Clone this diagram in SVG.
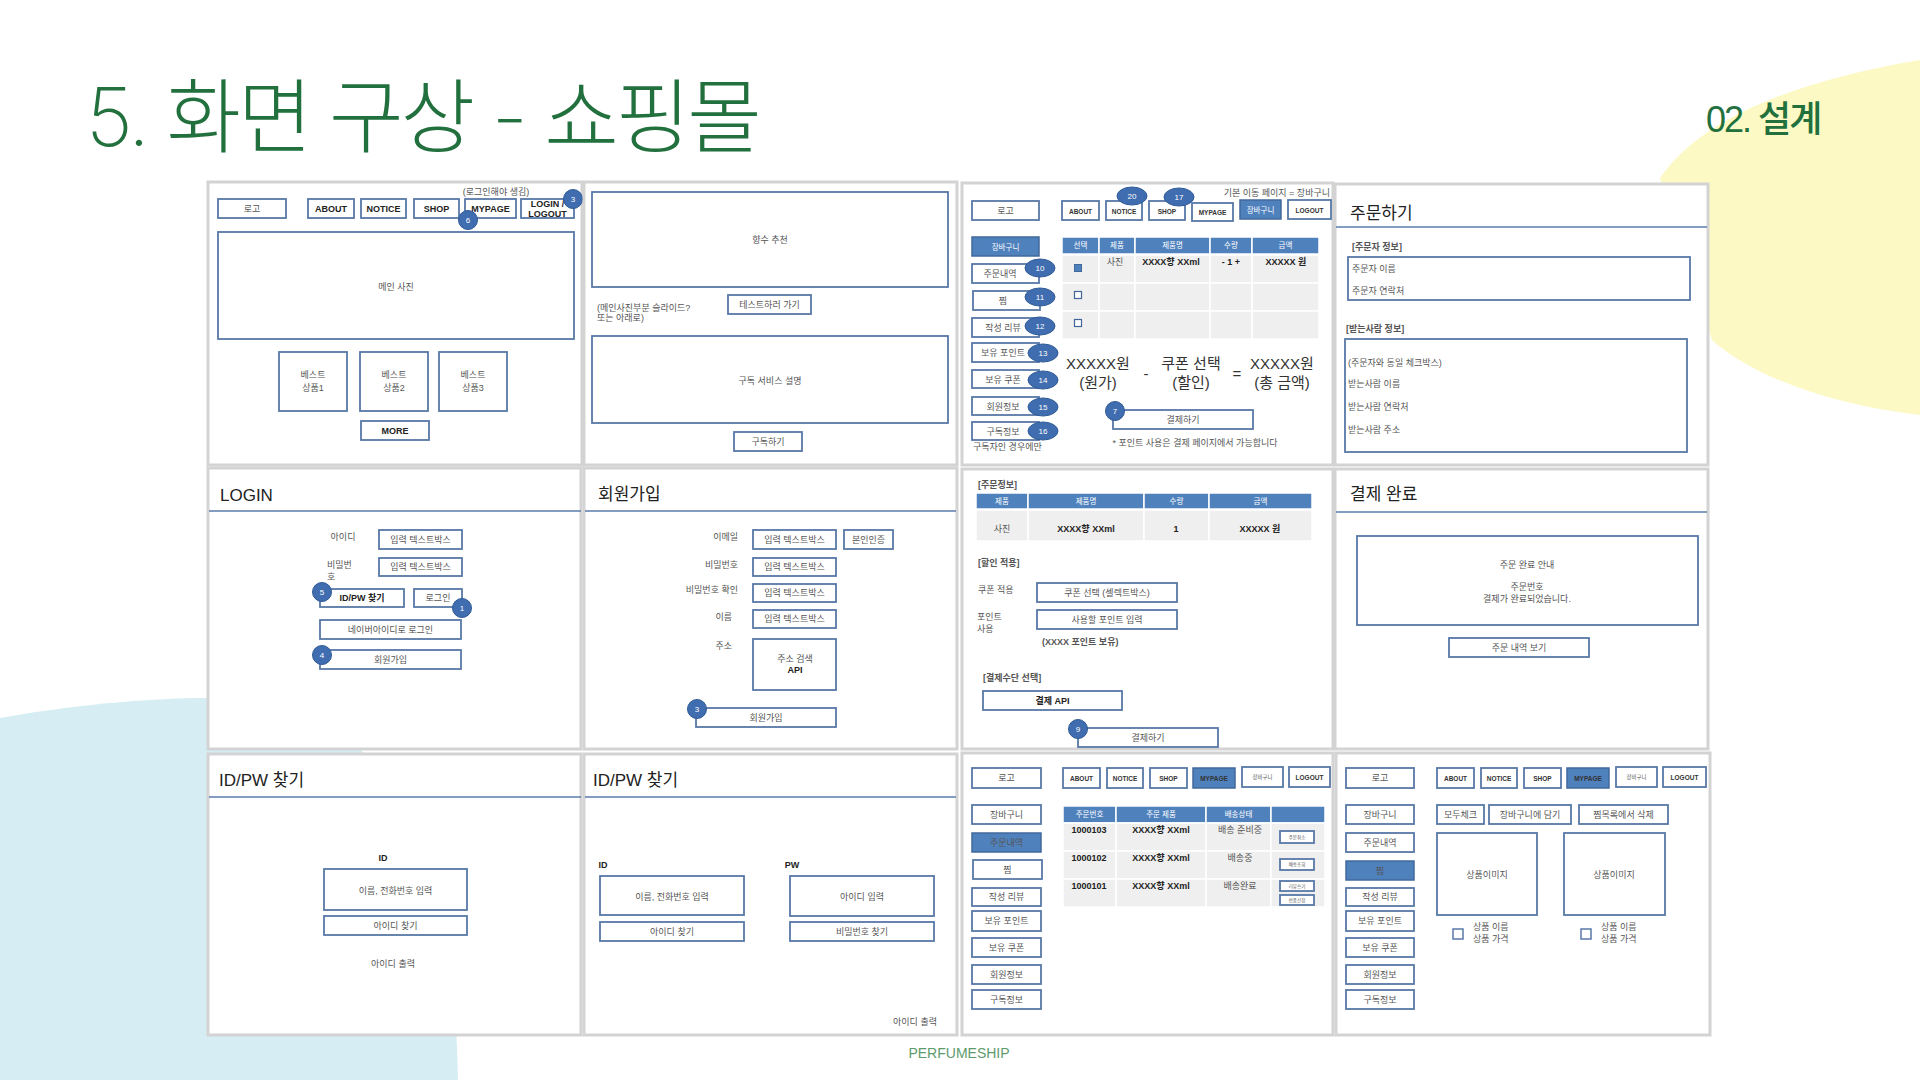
<svg xmlns="http://www.w3.org/2000/svg" width="1920" height="1080" viewBox="0 0 1920 1080">
<style>
.panel{fill:#fff;stroke:#d3d3d3;stroke-width:3}
.bx{fill:#fff;stroke:#5878a8;stroke-width:1.8}
.bf{fill:#4f81bd;stroke:#41689c;stroke-width:1.5}
.hc{fill:#4f81bd;stroke:#fff;stroke-width:1.5}
.rc{fill:#efefef;stroke:#fff;stroke-width:1.5}
.dv{stroke:#5a7bab;stroke-width:1.6}
text{font-family:"Liberation Sans","Noto Sans CJK KR",sans-serif}
.t{font-size:9px;fill:#555;text-anchor:middle;dominant-baseline:central}
.tl{font-size:9px;fill:#555;dominant-baseline:central}
.tr{font-size:9px;fill:#555;text-anchor:end;dominant-baseline:central}
.k{font-size:9px;fill:#222;font-weight:bold;text-anchor:middle;dominant-baseline:central}
.s{font-size:6.5px;fill:#333;font-weight:bold;text-anchor:middle;dominant-baseline:central}
.w{font-size:7.5px;fill:#fff;text-anchor:middle;dominant-baseline:central}
.ttl{font-size:17px;fill:#222}
.bd{fill:#3f6db0;stroke:#2f5a96;stroke-width:1}
.bt{font-size:8px;fill:#fff;text-anchor:middle;dominant-baseline:central}
.big{font-size:15px;fill:#333;text-anchor:middle;dominant-baseline:central}
.tiny{font-size:9px;fill:#555;text-anchor:middle;dominant-baseline:central}
.lt{font-family:Inter,"Noto Sans CJK KR",sans-serif;font-weight:200}
</style>
<rect width="1920" height="1080" fill="#fff"/>
<path d="M0,718 C90,702 190,694 262,700 C340,708 410,790 438,870 C452,930 456,1010 458,1080 L0,1080 Z" fill="#d5edf3"/>
<path d="M1660,178 C1700,120 1790,82 1920,60 L1920,415 C1830,405 1750,375 1712,340 Z" fill="#fcf9c4"/>
<text x="86" y="146" font-size="81" font-weight="200" fill="#22703d" letter-spacing="-3" font-family="'Noto Sans CJK KR','Liberation Sans',sans-serif"><tspan class="lt">5.</tspan> 화면 구상 <tspan class="lt">-</tspan> 쇼핑몰</text>
<text x="1706" y="132" font-size="36" font-weight="500" fill="#22703d" letter-spacing="-2" font-family="'Noto Sans CJK KR','Liberation Sans',sans-serif">02. 설계</text>
<text x="959" y="1058" font-size="14" fill="#5e9b6c" text-anchor="middle">PERFUMESHIP</text>

<g id="connectors"/>

<!-- Panel 1: main -->
<g id="p1">
<rect class="panel" x="208" y="182" width="374" height="283"/>
<g id="p1-logo"><rect class="bx" x="218" y="199" width="68" height="19"/><text class="t" x="252" y="209">로고</text></g>
<g id="p1-about"><rect class="bx" x="308" y="199" width="46" height="19"/><text class="k" x="331" y="209">ABOUT</text></g>
<g id="p1-notice"><rect class="bx" x="361" y="199" width="45" height="19"/><text class="k" x="383.5" y="209">NOTICE</text></g>
<g id="p1-shop"><rect class="bx" x="414" y="199" width="45" height="19"/><text class="k" x="436.5" y="209">SHOP</text></g>
<g id="p1-mypage"><rect class="bx" x="465" y="199" width="51" height="19"/><text class="k" x="490.5" y="209">MYPAGE</text></g>
<g id="p1-login"><rect class="bx" x="521" y="199" width="53" height="19"/><text class="k" x="547.5" y="203.5">LOGIN /</text><text class="k" x="547.5" y="214">LOGOUT</text></g>
<text class="t" x="496" y="192">(로그인해야 생김)</text>
<g id="p1-b3"><circle class="bd" cx="573" cy="199" r="9.5"/><text class="bt" x="573" y="199">3</text></g>
<g id="p1-b6"><circle class="bd" cx="468" cy="220" r="9.5"/><text class="bt" x="468" y="220">6</text></g>
<g id="p1-main"><rect class="bx" x="218" y="232" width="356" height="107"/><text class="t" x="396" y="287">메인 사진</text></g>
<g id="p1-best1"><rect class="bx" x="279" y="352" width="68" height="59"/><text class="t" x="313" y="375">베스트</text><text class="t" x="313" y="388">상품1</text></g>
<g id="p1-best2"><rect class="bx" x="360" y="352" width="68" height="59"/><text class="t" x="394" y="375">베스트</text><text class="t" x="394" y="388">상품2</text></g>
<g id="p1-best3"><rect class="bx" x="439" y="352" width="68" height="59"/><text class="t" x="473" y="375">베스트</text><text class="t" x="473" y="388">상품3</text></g>
<g id="p1-more"><rect class="bx" x="361" y="421" width="68" height="19"/><text class="k" x="395" y="431">MORE</text></g>
</g>

<!-- Panel 2 -->
<g id="p2">
<rect class="panel" x="584" y="182" width="373" height="283"/>
<g id="p2-rec"><rect class="bx" x="592" y="192" width="356" height="95"/><text class="t" x="770" y="240">향수 추천</text></g>
<g id="p2-test"><rect class="bx" x="728" y="295" width="83" height="19"/><text class="t" x="769.5" y="305">테스트하러 가기</text></g>
<text class="tl" x="597" y="308">(메인사진부분 슬라이드?</text>
<text class="tl" x="597" y="318">또는 아래로)</text>
<g id="p2-sub"><rect class="bx" x="592" y="336" width="356" height="87"/><text class="t" x="770" y="381">구독 서비스 설명</text></g>
<g id="p2-subbtn"><rect class="bx" x="734" y="432" width="68" height="19"/><text class="t" x="768" y="442">구독하기</text></g>
</g>

<!-- Panel 3: cart -->
<g id="p3">
<rect class="panel" x="962" y="183" width="371" height="282"/>
<g id="p3-logo"><rect class="bx" x="972" y="201" width="67" height="19"/><text class="t" x="1005.5" y="211">로고</text></g>
<g id="p3-about"><rect class="bx" x="1062" y="201" width="37" height="19"/><text class="s" x="1080.5" y="211">ABOUT</text></g>
<g id="p3-notice"><rect class="bx" x="1106" y="201" width="36" height="19"/><text class="s" x="1124" y="211">NOTICE</text></g>
<g id="p3-shop"><rect class="bx" x="1149" y="201" width="36" height="19"/><text class="s" x="1167" y="211">SHOP</text></g>
<g id="p3-mypage"><rect class="bx" x="1192" y="203" width="41" height="18"/><text class="s" x="1212.5" y="212">MYPAGE</text></g>
<g id="p3-cart"><rect class="bf" x="1240" y="200" width="41" height="19"/><text class="w" x="1260.5" y="210" font-size="6">장바구니</text></g>
<g id="p3-logout"><rect class="bx" x="1288" y="200" width="43" height="19"/><text class="s" x="1309.5" y="210">LOGOUT</text></g>
<text class="tr" x="1330" y="193">기본 이동 페이지 = 장바구니</text>
<g id="p3-b20"><ellipse class="bd" cx="1132" cy="196" rx="15" ry="9"/><text class="bt" x="1132" y="196">20</text></g>
<g id="p3-b17"><ellipse class="bd" cx="1179" cy="197" rx="15" ry="9"/><text class="bt" x="1179" y="197">17</text></g>
<g id="p3-side">
<rect class="bf" x="972" y="237" width="67" height="19"/><text class="w" x="1005.5" y="247" font-size="9">장바구니</text>
<rect class="bx" x="972" y="264" width="67" height="19"/><text class="t" x="1000" y="274">주문내역</text>
<rect class="bx" x="973" y="291" width="67" height="19"/><text class="t" x="1003" y="301">찜</text>
<rect class="bx" x="972" y="318" width="67" height="19"/><text class="t" x="1003" y="328">작성 리뷰</text>
<rect class="bx" x="972" y="343" width="67" height="19"/><text class="t" x="1003" y="353">보유 포인트</text>
<rect class="bx" x="972" y="370" width="67" height="18"/><text class="t" x="1003" y="380">보유 쿠폰</text>
<rect class="bx" x="972" y="397" width="67" height="18"/><text class="t" x="1003" y="407">회원정보</text>
<rect class="bx" x="972" y="422" width="67" height="18"/><text class="t" x="1003" y="432">구독정보</text>
<text class="tl" x="973" y="447">구독자인 경우에만</text>
</g>
<g id="p3-badges">
<ellipse class="bd" cx="1040" cy="268" rx="15" ry="9"/><text class="bt" x="1040" y="268">10</text>
<ellipse class="bd" cx="1040" cy="297" rx="15" ry="9"/><text class="bt" x="1040" y="297">11</text>
<ellipse class="bd" cx="1040" cy="326" rx="15" ry="9"/><text class="bt" x="1040" y="326">12</text>
<ellipse class="bd" cx="1043" cy="353" rx="15" ry="9"/><text class="bt" x="1043" y="353">13</text>
<ellipse class="bd" cx="1043" cy="380" rx="15" ry="9"/><text class="bt" x="1043" y="380">14</text>
<ellipse class="bd" cx="1043" cy="407" rx="15" ry="9"/><text class="bt" x="1043" y="407">15</text>
<ellipse class="bd" cx="1043" cy="431" rx="15" ry="9"/><text class="bt" x="1043" y="431">16</text>
</g>
<g id="p3-table">
<rect class="hc" x="1062" y="237" width="37" height="17"/><text class="w" x="1080.5" y="245">선택</text>
<rect class="hc" x="1099" y="237" width="36" height="17"/><text class="w" x="1117" y="245">제품</text>
<rect class="hc" x="1135" y="237" width="75" height="17"/><text class="w" x="1172.5" y="245">제품명</text>
<rect class="hc" x="1210" y="237" width="42" height="17"/><text class="w" x="1231" y="245">수량</text>
<rect class="hc" x="1252" y="237" width="67" height="17"/><text class="w" x="1285.5" y="245">금액</text>
<rect class="rc" x="1062" y="255" width="37" height="28"/><rect class="rc" x="1099" y="255" width="36" height="28"/><rect class="rc" x="1135" y="255" width="75" height="28"/><rect class="rc" x="1210" y="255" width="42" height="28"/><rect class="rc" x="1252" y="255" width="67" height="28"/>
<rect class="rc" x="1062" y="283" width="37" height="28"/><rect class="rc" x="1099" y="283" width="36" height="28"/><rect class="rc" x="1135" y="283" width="75" height="28"/><rect class="rc" x="1210" y="283" width="42" height="28"/><rect class="rc" x="1252" y="283" width="67" height="28"/>
<rect class="rc" x="1062" y="311" width="37" height="28"/><rect class="rc" x="1099" y="311" width="36" height="28"/><rect class="rc" x="1135" y="311" width="75" height="28"/><rect class="rc" x="1210" y="311" width="42" height="28"/><rect class="rc" x="1252" y="311" width="67" height="28"/>
<rect x="1074.5" y="264.5" width="7" height="7" fill="#4f81bd" stroke="#41689c"/>
<rect x="1074.5" y="291.5" width="7" height="7" fill="#fff" stroke="#41689c" stroke-width="1.2"/>
<rect x="1074.5" y="319.5" width="7" height="7" fill="#fff" stroke="#41689c" stroke-width="1.2"/>
<text class="t" x="1115" y="262">사진</text>
<text class="k" x="1171" y="262" font-size="8.5">XXXX향 XXml</text>
<text class="k" x="1231" y="262" font-size="8.5">- 1 +</text>
<text class="k" x="1286" y="262" font-size="8.5">XXXXX 원</text>
</g>
<g id="p3-price">
<text class="big" x="1098" y="363">XXXXX원</text><text class="big" x="1098" y="382">(원가)</text>
<text class="big" x="1146" y="373">-</text>
<text class="big" x="1191" y="363">쿠폰 선택</text><text class="big" x="1191" y="382">(할인)</text>
<text class="big" x="1237" y="373">=</text>
<text class="big" x="1282" y="363">XXXXX원</text><text class="big" x="1282" y="382">(총 금액)</text>
</g>
<g id="p3-pay"><rect class="bx" x="1113" y="410" width="140" height="19"/><text class="t" x="1183" y="420">결제하기</text><circle class="bd" cx="1115" cy="411" r="9.5"/><text class="bt" x="1115" y="411">7</text></g>
<text class="t" x="1195" y="443">* 포인트 사용은 결제 페이지에서 가능합니다</text>
</g>

<!-- Panel 4: order -->
<g id="p4">
<rect class="panel" x="1335" y="184" width="373" height="281"/>
<text class="ttl" x="1350" y="219">주문하기</text>
<line class="dv" x1="1336" y1="227" x2="1707" y2="227"/>
<text class="tl" x="1352" y="247" font-weight="bold">[주문자 정보]</text>
<g id="p4-orderer"><rect class="bx" x="1348" y="257" width="342" height="43"/><text class="tl" x="1352" y="269">주문자 이름</text><text class="tl" x="1352" y="291">주문자 연락처</text></g>
<text class="tl" x="1346" y="329" font-weight="bold">[받는사람 정보]</text>
<g id="p4-recv"><rect class="bx" x="1345" y="339" width="342" height="113"/>
<text class="tl" x="1348" y="363">(주문자와 동일 체크박스)</text>
<text class="tl" x="1348" y="384">받는사람 이름</text>
<text class="tl" x="1348" y="407">받는사람 연락처</text>
<text class="tl" x="1348" y="430">받는사람 주소</text></g>
</g>

<!-- Panel 5: LOGIN -->
<g id="p5">
<rect class="panel" x="208" y="468" width="373" height="281"/>
<text class="ttl" x="220" y="501">LOGIN</text>
<line class="dv" x1="209" y1="511" x2="581" y2="511"/>
<text class="t" x="343" y="537">아이디</text>
<g id="p5-id"><rect class="bx" x="379" y="530" width="83" height="19"/><text class="t" x="420.5" y="540">입력 텍스트박스</text></g>
<text class="tl" x="327" y="565">비밀번</text><text class="tl" x="327" y="577">호</text>
<g id="p5-pw"><rect class="bx" x="379" y="558" width="83" height="18"/><text class="t" x="420.5" y="567">입력 텍스트박스</text></g>
<g id="p5-find"><rect class="bx" x="320" y="589" width="84" height="18"/><text class="k" x="362" y="598" fill="#333">ID/PW 찾기</text><circle class="bd" cx="322" cy="592" r="9.5"/><text class="bt" x="322" y="592">5</text></g>
<g id="p5-login"><rect class="bx" x="414" y="589" width="48" height="18"/><text class="t" x="438" y="598">로그인</text><circle class="bd" cx="462" cy="608" r="9.5"/><text class="bt" x="462" y="608">1</text></g>
<g id="p5-naver"><rect class="bx" x="320" y="620" width="141" height="19"/><text class="t" x="390.5" y="630">네이버아이디로 로그인</text></g>
<g id="p5-join"><rect class="bx" x="320" y="650" width="141" height="19"/><text class="t" x="390.5" y="660">회원가입</text><circle class="bd" cx="322" cy="655" r="9.5"/><text class="bt" x="322" y="655">4</text></g>
</g>

<!-- Panel 6: join -->
<g id="p6">
<rect class="panel" x="584" y="468" width="373" height="281"/>
<text class="ttl" x="598" y="500">회원가입</text>
<line class="dv" x1="585" y1="511" x2="956" y2="511"/>
<text class="tr" x="738" y="537">이메일</text>
<text class="tr" x="738" y="565">비밀번호</text>
<text class="tr" x="738" y="590">비밀번호 확인</text>
<text class="tr" x="732" y="617">이름</text>
<text class="tr" x="732" y="646">주소</text>
<g id="p6-email"><rect class="bx" x="753" y="530" width="83" height="19"/><text class="t" x="794.5" y="540">입력 텍스트박스</text></g>
<g id="p6-auth"><rect class="bx" x="844" y="530" width="49" height="19"/><text class="t" x="868.5" y="540">본인인증</text></g>
<g id="p6-pw"><rect class="bx" x="753" y="558" width="83" height="18"/><text class="t" x="794.5" y="567">입력 텍스트박스</text></g>
<g id="p6-pw2"><rect class="bx" x="753" y="584" width="83" height="18"/><text class="t" x="794.5" y="593">입력 텍스트박스</text></g>
<g id="p6-name"><rect class="bx" x="753" y="610" width="83" height="18"/><text class="t" x="794.5" y="619">입력 텍스트박스</text></g>
<g id="p6-addr"><rect class="bx" x="753" y="639" width="83" height="51"/><text class="t" x="795" y="659">주소 검색</text><text class="k" x="795" y="670" fill="#333">API</text></g>
<g id="p6-join"><rect class="bx" x="696" y="708" width="140" height="19"/><text class="t" x="766" y="718">회원가입</text><circle class="bd" cx="697" cy="709" r="9.5"/><text class="bt" x="697" y="709">3</text></g>
</g>

<!-- Panel 7: payment -->
<g id="p7">
<rect class="panel" x="962" y="469" width="371" height="280"/>
<text class="tl" x="978" y="485" font-weight="bold">[주문정보]</text>
<g id="p7-table">
<rect class="hc" x="976" y="493" width="52" height="16"/><text class="w" x="1002" y="501">제품</text>
<rect class="hc" x="1028" y="493" width="116" height="16"/><text class="w" x="1086" y="501">제품명</text>
<rect class="hc" x="1144" y="493" width="65" height="16"/><text class="w" x="1176.5" y="501">수량</text>
<rect class="hc" x="1209" y="493" width="103" height="16"/><text class="w" x="1260.5" y="501">금액</text>
<rect class="rc" x="976" y="510" width="52" height="31"/><rect class="rc" x="1028" y="510" width="116" height="31"/><rect class="rc" x="1144" y="510" width="65" height="31"/><rect class="rc" x="1209" y="510" width="103" height="31"/>
<text class="t" x="1002" y="529">사진</text>
<text class="k" x="1086" y="529" font-size="8.5">XXXX향 XXml</text>
<text class="k" x="1176" y="529" font-size="8.5">1</text>
<text class="k" x="1260" y="529" font-size="8.5">XXXXX 원</text>
</g>
<text class="tl" x="978" y="563" font-weight="bold">[할인 적용]</text>
<text class="tl" x="978" y="590">쿠폰 적용</text>
<g id="p7-coupon"><rect class="bx" x="1037" y="583" width="140" height="19"/><text class="t" x="1107" y="593">쿠폰 선택 (셀렉트박스)</text></g>
<text class="tl" x="977" y="617">포인트</text><text class="tl" x="977" y="629">사용</text>
<g id="p7-point"><rect class="bx" x="1037" y="610" width="140" height="19"/><text class="t" x="1107" y="620">사용할 포인트 입력</text></g>
<text class="tl" x="1042" y="642" font-weight="bold">(XXXX 포인트 보유)</text>
<text class="tl" x="983" y="678" font-weight="bold">[결제수단 선택]</text>
<g id="p7-api"><rect class="bx" x="983" y="691" width="139" height="19"/><text class="k" x="1052.5" y="701" fill="#333">결제 API</text></g>
<g id="p7-pay"><rect class="bx" x="1078" y="728" width="140" height="19"/><text class="t" x="1148" y="738">결제하기</text><circle class="bd" cx="1078" cy="729" r="9.5"/><text class="bt" x="1078" y="729">9</text></g>
</g>

<!-- Panel 8: done -->
<g id="p8">
<rect class="panel" x="1335" y="469" width="373" height="280"/>
<text class="ttl" x="1350" y="500">결제 완료</text>
<line class="dv" x1="1336" y1="512" x2="1707" y2="512"/>
<g id="p8-info"><rect class="bx" x="1357" y="536" width="341" height="89"/>
<text class="t" x="1527" y="565">주문 완료 안내</text>
<text class="t" x="1527" y="587">주문번호</text>
<text class="t" x="1527" y="599">결제가 완료되었습니다.</text></g>
<g id="p8-view"><rect class="bx" x="1449" y="638" width="140" height="19"/><text class="t" x="1519" y="648">주문 내역 보기</text></g>
</g>

<!-- Panel 9: find ID -->
<g id="p9">
<rect class="panel" x="208" y="754" width="373" height="281"/>
<text class="ttl" x="219" y="786">ID/PW 찾기</text>
<line class="dv" x1="209" y1="797" x2="581" y2="797"/>
<text class="k" x="383" y="858" fill="#333">ID</text>
<g id="p9-input"><rect class="bx" x="324" y="869" width="143" height="41"/><text class="t" x="395.5" y="891">이름, 전화번호 입력</text></g>
<g id="p9-find"><rect class="bx" x="324" y="916" width="143" height="19"/><text class="t" x="395.5" y="926">아이디 찾기</text></g>
<text class="t" x="393" y="964">아이디 출력</text>
</g>

<!-- Panel 10: find ID/PW -->
<g id="p10">
<rect class="panel" x="584" y="754" width="373" height="281"/>
<text class="ttl" x="593" y="786">ID/PW 찾기</text>
<line class="dv" x1="585" y1="797" x2="956" y2="797"/>
<text class="k" x="603" y="865" fill="#333" text-anchor="start">ID</text>
<g id="p10-idin"><rect class="bx" x="600" y="876" width="144" height="39"/><text class="t" x="672" y="897">이름, 전화번호 입력</text></g>
<g id="p10-idbtn"><rect class="bx" x="600" y="922" width="144" height="19"/><text class="t" x="672" y="932">아이디 찾기</text></g>
<text class="k" x="792" y="865" fill="#333" text-anchor="start">PW</text>
<g id="p10-pwin"><rect class="bx" x="790" y="876" width="144" height="40"/><text class="t" x="862" y="897">아이디 입력</text></g>
<g id="p10-pwbtn"><rect class="bx" x="790" y="922" width="144" height="19"/><text class="t" x="862" y="932">비밀번호 찾기</text></g>
<text class="t" x="915" y="1022">아이디 출력</text>
</g>

<!-- Panel 11: order history -->
<g id="p11">
<rect class="panel" x="962" y="753" width="371" height="282"/>
<g id="p11-logo"><rect class="bx" x="972" y="768" width="69" height="20"/><text class="t" x="1006.5" y="778">로고</text></g>
<g id="p11-about"><rect class="bx" x="1063" y="768" width="37" height="20"/><text class="s" x="1081.5" y="778">ABOUT</text></g>
<g id="p11-notice"><rect class="bx" x="1107" y="768" width="36" height="20"/><text class="s" x="1125" y="778">NOTICE</text></g>
<g id="p11-shop"><rect class="bx" x="1150" y="768" width="37" height="20"/><text class="s" x="1168.5" y="778">SHOP</text></g>
<g id="p11-mypage"><rect class="bf" x="1193" y="768" width="42" height="20"/><text class="s" x="1214" y="778" fill="#223">MYPAGE</text></g>
<g id="p11-cart"><rect class="bx" x="1242" y="767" width="41" height="20"/><text class="tiny" transform="translate(1262.5,777) scale(0.6)" fill="#888">장바구니</text></g>
<g id="p11-logout"><rect class="bx" x="1289" y="767" width="41" height="20"/><text class="s" x="1309.5" y="777">LOGOUT</text></g>
<g id="p11-side">
<rect class="bx" x="972" y="805" width="69" height="19"/><text class="t" x="1006.5" y="815">장바구니</text>
<rect class="bf" x="972" y="833" width="69" height="19"/><text class="t" x="1006.5" y="843" fill="#223">주문내역</text>
<rect class="bx" x="973" y="860" width="69" height="19"/><text class="t" x="1007.5" y="870">찜</text>
<rect class="bx" x="972" y="888" width="69" height="18"/><text class="t" x="1006.5" y="897">작성 리뷰</text>
<rect class="bx" x="972" y="911" width="69" height="20"/><text class="t" x="1006.5" y="921">보유 포인트</text>
<rect class="bx" x="972" y="938" width="69" height="19"/><text class="t" x="1006.5" y="948">보유 쿠폰</text>
<rect class="bx" x="972" y="965" width="69" height="19"/><text class="t" x="1006.5" y="975">회원정보</text>
<rect class="bx" x="972" y="990" width="69" height="19"/><text class="t" x="1006.5" y="1000">구독정보</text>
</g>
<g id="p11-table">
<rect class="hc" x="1063" y="806" width="53" height="17"/><text class="w" x="1089.5" y="814">주문번호</text>
<rect class="hc" x="1116" y="806" width="90" height="17"/><text class="w" x="1161" y="814">주문 제품</text>
<rect class="hc" x="1206" y="806" width="65" height="17"/><text class="w" x="1238.5" y="814">배송상태</text>
<rect class="hc" x="1271" y="806" width="54" height="17"/>
<rect class="rc" x="1063" y="823" width="53" height="28"/><rect class="rc" x="1116" y="823" width="90" height="28"/><rect class="rc" x="1206" y="823" width="65" height="28"/><rect class="rc" x="1271" y="823" width="54" height="28"/>
<rect class="rc" x="1063" y="851" width="53" height="28"/><rect class="rc" x="1116" y="851" width="90" height="28"/><rect class="rc" x="1206" y="851" width="65" height="28"/><rect class="rc" x="1271" y="851" width="54" height="28"/>
<rect class="rc" x="1063" y="879" width="53" height="28"/><rect class="rc" x="1116" y="879" width="90" height="28"/><rect class="rc" x="1206" y="879" width="65" height="28"/><rect class="rc" x="1271" y="879" width="54" height="28"/>
<text class="k" x="1089" y="830" font-size="8.5">1000103</text>
<text class="k" x="1161" y="830" font-size="8.5">XXXX향 XXml</text>
<text class="t" x="1240" y="830">배송 준비중</text>
<rect class="bx" x="1280" y="831" width="34" height="12" stroke-width="1.2"/><text class="tiny" transform="translate(1297,837) scale(0.5)">주문취소</text>
<text class="k" x="1089" y="858" font-size="8.5">1000102</text>
<text class="k" x="1161" y="858" font-size="8.5">XXXX향 XXml</text>
<text class="t" x="1240" y="858">배송중</text>
<rect class="bx" x="1280" y="859" width="34" height="11" stroke-width="1.2"/><text class="tiny" transform="translate(1297,864.5) scale(0.5)">배송조회</text>
<text class="k" x="1089" y="886" font-size="8.5">1000101</text>
<text class="k" x="1161" y="886" font-size="8.5">XXXX향 XXml</text>
<text class="t" x="1240" y="886">배송완료</text>
<rect class="bx" x="1280" y="881" width="34" height="10" stroke-width="1.2"/><text class="tiny" transform="translate(1297,886) scale(0.5)">리뷰쓰기</text>
<rect class="bx" x="1280" y="895" width="34" height="10" stroke-width="1.2"/><text class="tiny" transform="translate(1297,900) scale(0.5)">반품신청</text>
</g>
</g>

<!-- Panel 12: wishlist -->
<g id="p12">
<rect class="panel" x="1336" y="753" width="374" height="282"/>
<g id="p12-logo"><rect class="bx" x="1346" y="768" width="68" height="20"/><text class="t" x="1380" y="778">로고</text></g>
<g id="p12-about"><rect class="bx" x="1437" y="768" width="37" height="20"/><text class="s" x="1455.5" y="778">ABOUT</text></g>
<g id="p12-notice"><rect class="bx" x="1481" y="768" width="36" height="20"/><text class="s" x="1499" y="778">NOTICE</text></g>
<g id="p12-shop"><rect class="bx" x="1524" y="768" width="37" height="20"/><text class="s" x="1542.5" y="778">SHOP</text></g>
<g id="p12-mypage"><rect class="bf" x="1567" y="768" width="42" height="20"/><text class="s" x="1588" y="778" fill="#223">MYPAGE</text></g>
<g id="p12-cart"><rect class="bx" x="1616" y="767" width="41" height="20"/><text class="tiny" transform="translate(1636.5,777) scale(0.6)" fill="#888">장바구니</text></g>
<g id="p12-logout"><rect class="bx" x="1663" y="767" width="43" height="20"/><text class="s" x="1684.5" y="777">LOGOUT</text></g>
<g id="p12-side">
<rect class="bx" x="1346" y="805" width="68" height="19"/><text class="t" x="1380" y="815">장바구니</text>
<rect class="bx" x="1346" y="833" width="68" height="19"/><text class="t" x="1380" y="843">주문내역</text>
<rect class="bf" x="1346" y="861" width="68" height="19"/><text class="t" x="1380" y="871" fill="#223">찜</text>
<rect class="bx" x="1346" y="888" width="68" height="18"/><text class="t" x="1380" y="897">작성 리뷰</text>
<rect class="bx" x="1346" y="911" width="68" height="20"/><text class="t" x="1380" y="921">보유 포인트</text>
<rect class="bx" x="1346" y="938" width="68" height="19"/><text class="t" x="1380" y="948">보유 쿠폰</text>
<rect class="bx" x="1346" y="965" width="68" height="19"/><text class="t" x="1380" y="975">회원정보</text>
<rect class="bx" x="1346" y="990" width="68" height="19"/><text class="t" x="1380" y="1000">구독정보</text>
</g>
<g id="p12-checkall"><rect class="bx" x="1437" y="805" width="47" height="19"/><text class="t" x="1460.5" y="815">모두체크</text></g>
<g id="p12-tocart"><rect class="bx" x="1489" y="805" width="82" height="19"/><text class="t" x="1530" y="815">장바구니에 담기</text></g>
<g id="p12-del"><rect class="bx" x="1579" y="805" width="89" height="19"/><text class="t" x="1623.5" y="815">찜목록에서 삭제</text></g>
<g id="p12-item1"><rect class="bx" x="1437" y="833" width="100" height="82"/><text class="t" x="1487" y="875">상품이미지</text>
<rect x="1453" y="929" width="10" height="10" fill="#fff" stroke="#5878a8" stroke-width="1.5"/>
<text class="tl" x="1473" y="927">상품 이름</text><text class="tl" x="1473" y="939">상품 가격</text></g>
<g id="p12-item2"><rect class="bx" x="1564" y="833" width="101" height="82"/><text class="t" x="1614" y="875">상품이미지</text>
<rect x="1581" y="929" width="10" height="10" fill="#fff" stroke="#5878a8" stroke-width="1.5"/>
<text class="tl" x="1601" y="927">상품 이름</text><text class="tl" x="1601" y="939">상품 가격</text></g>
</g>
</svg>
